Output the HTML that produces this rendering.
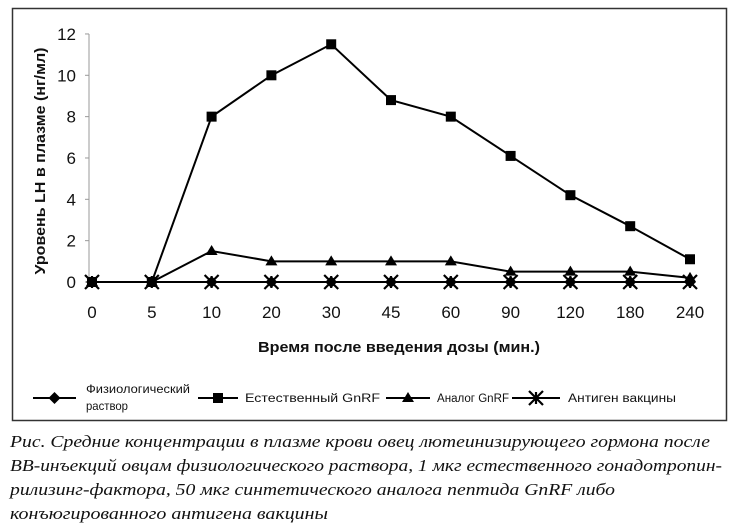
<!DOCTYPE html>
<html><head><meta charset="utf-8"><style>
html,body{margin:0;padding:0;background:#fff;width:737px;height:525px;overflow:hidden}
svg{display:block}
text{font-family:"Liberation Sans",Arial,sans-serif;fill:#111}
.cap{font-family:"Liberation Serif",serif;font-style:italic;font-size:17px}
</style></head><body>
<svg id="chart" width="737" height="525">
<rect x="12.5" y="8.5" width="714" height="412" fill="none" stroke="#333" stroke-width="1.5"/>
<g id="plot"></g>
<text x="0" y="0" transform="translate(45,161) rotate(-90)" text-anchor="middle" font-size="15" font-weight="bold" textLength="227" lengthAdjust="spacingAndGlyphs">Уровень LH  в плазме (нг/мл)</text>
<text x="399" y="352" text-anchor="middle" font-size="15" font-weight="bold" textLength="282" lengthAdjust="spacingAndGlyphs">Время после введения дозы (мин.)</text>
<g id="legend"></g>
<g>
<text class="cap" x="10" y="447" textLength="700" lengthAdjust="spacingAndGlyphs">Рис. Средние концентрации в плазме крови овец лютеинизирующего гормона после</text>
<text class="cap" x="10" y="471" textLength="712" lengthAdjust="spacingAndGlyphs">ВВ-инъекций овцам физиологического раствора, 1 мкг естественного гонадотропин-</text>
<text class="cap" x="10" y="495" textLength="605" lengthAdjust="spacingAndGlyphs">рилизинг-фактора, 50 мкг синтетического аналога пептида GnRF либо</text>
<text class="cap" x="10" y="519" textLength="318" lengthAdjust="spacingAndGlyphs">конъюгированного антигена вакцины</text>
</g>
</svg>
<script>
const categories=["0","5","10","20","30","45","60","90","120","180","240"];
const yTicks=[0,2,4,6,8,10,12];
const saline=[0,0,0,0,0,0,0,0,0,0,0];
const natural=[0,0,8,10,11.5,8.8,8,6.1,4.2,2.7,1.1];
const analog=[0,0,1.5,1,1,1,1,0.5,0.5,0.5,0.2];
const antigen=[0,0,0,0,0,0,0,0,0,0,0];

const NS="http://www.w3.org/2000/svg";
const plot=document.getElementById('plot');
const X0=92,XSTEP=59.8,Y0=282,YPER=20.67;
function xs(i){return X0+i*XSTEP;}
function ys(v){return Y0-v*YPER;}
function mk(tag,attrs,parent){const e=document.createElementNS(NS,tag);for(const k in attrs)e.setAttribute(k,attrs[k]);parent.appendChild(e);return e;}

const ax=mk('line',{x1:89,y1:ys(12),x2:89,y2:Y0,stroke:'#999','stroke-width':1},plot);


yTicks.forEach(t=>{
  const tk=mk('line',{x1:85,x2:89,y1:ys(t),y2:ys(t),stroke:'#999'},plot);
  
  
  const tl=mk('text',{x:76,y:ys(t)+6,'text-anchor':'end','font-size':17},plot);
  tl.textContent=t;
  
  
});
categories.forEach((c,i)=>{
  const tl=mk('text',{x:xs(i),y:318,'text-anchor':'middle','font-size':17},plot);
  tl.textContent=c;
  
  
});

function marker(type,x,y,parent){
  let m;
  if(type==='diamond') m=mk('path',{d:`M${x} ${y-6}L${x+6} ${y}L${x} ${y+6}L${x-6} ${y}Z`,fill:'#000'},parent);
  else if(type==='square') m=mk('rect',{x:x-5,y:y-5,width:10,height:10,fill:'#000'},parent);
  else if(type==='triangle') m=mk('path',{d:`M${x} ${y-6}L${x+6} ${y+4}L${x-6} ${y+4}Z`,fill:'#000'},parent);
  else m=mk('path',{d:`M${x-7} ${y-7}L${x+7} ${y+7}M${x+7} ${y-7}L${x-7} ${y+7}M${x} ${y-6}L${x} ${y+6}`,stroke:'#000','stroke-width':2.2,fill:'none'},parent);
  return m;
}
const series=[[saline,'diamond','series-saline'],[natural,'square','series-natural-gnrf'],[analog,'triangle','series-analog-gnrf'],[antigen,'x','series-vaccine-antigen']];
series.forEach(([vals,type,name])=>{
  const g=mk('g',{},plot);
  
  
  const pl=mk('polyline',{points:vals.map((v,i)=>xs(i)+','+ys(v)).join(' '),fill:'none',stroke:'#000','stroke-width':2},g);
  
  
  vals.forEach((v,i)=>{
    const m=marker(type,xs(i),ys(v),g);
    
    
  });
});

const leg=document.getElementById('legend');
const legItems=[['diamond',33,43,86,['Физиологический','раствор'],104],['square',198,40,245,['Естественный GnRF'],135],['triangle',386,44,437,['Аналог GnRF'],72],['x',512,48,568,['Антиген вакцины'],108]];
legItems.forEach(([type,x,w,tx,lab,tw])=>{
  const g=mk('g',{},leg);
  
  
  mk('line',{x1:x,x2:x+w,y1:398,y2:398,stroke:'#000','stroke-width':2},g);
  marker(type,x+w/2,398,g);
  if(lab.length===2){
    const t1=mk('text',{x:tx,y:393,'font-size':12,textLength:tw,lengthAdjust:'spacingAndGlyphs'},g);t1.textContent=lab[0];
    const t2=mk('text',{x:tx,y:410,'font-size':12,textLength:42,lengthAdjust:'spacingAndGlyphs'},g);t2.textContent=lab[1];
  } else {
    const t=mk('text',{x:tx,y:402,'font-size':11.5,textLength:tw,lengthAdjust:'spacingAndGlyphs'},g);t.textContent=lab[0];
  }
});
</script>
</body></html>
